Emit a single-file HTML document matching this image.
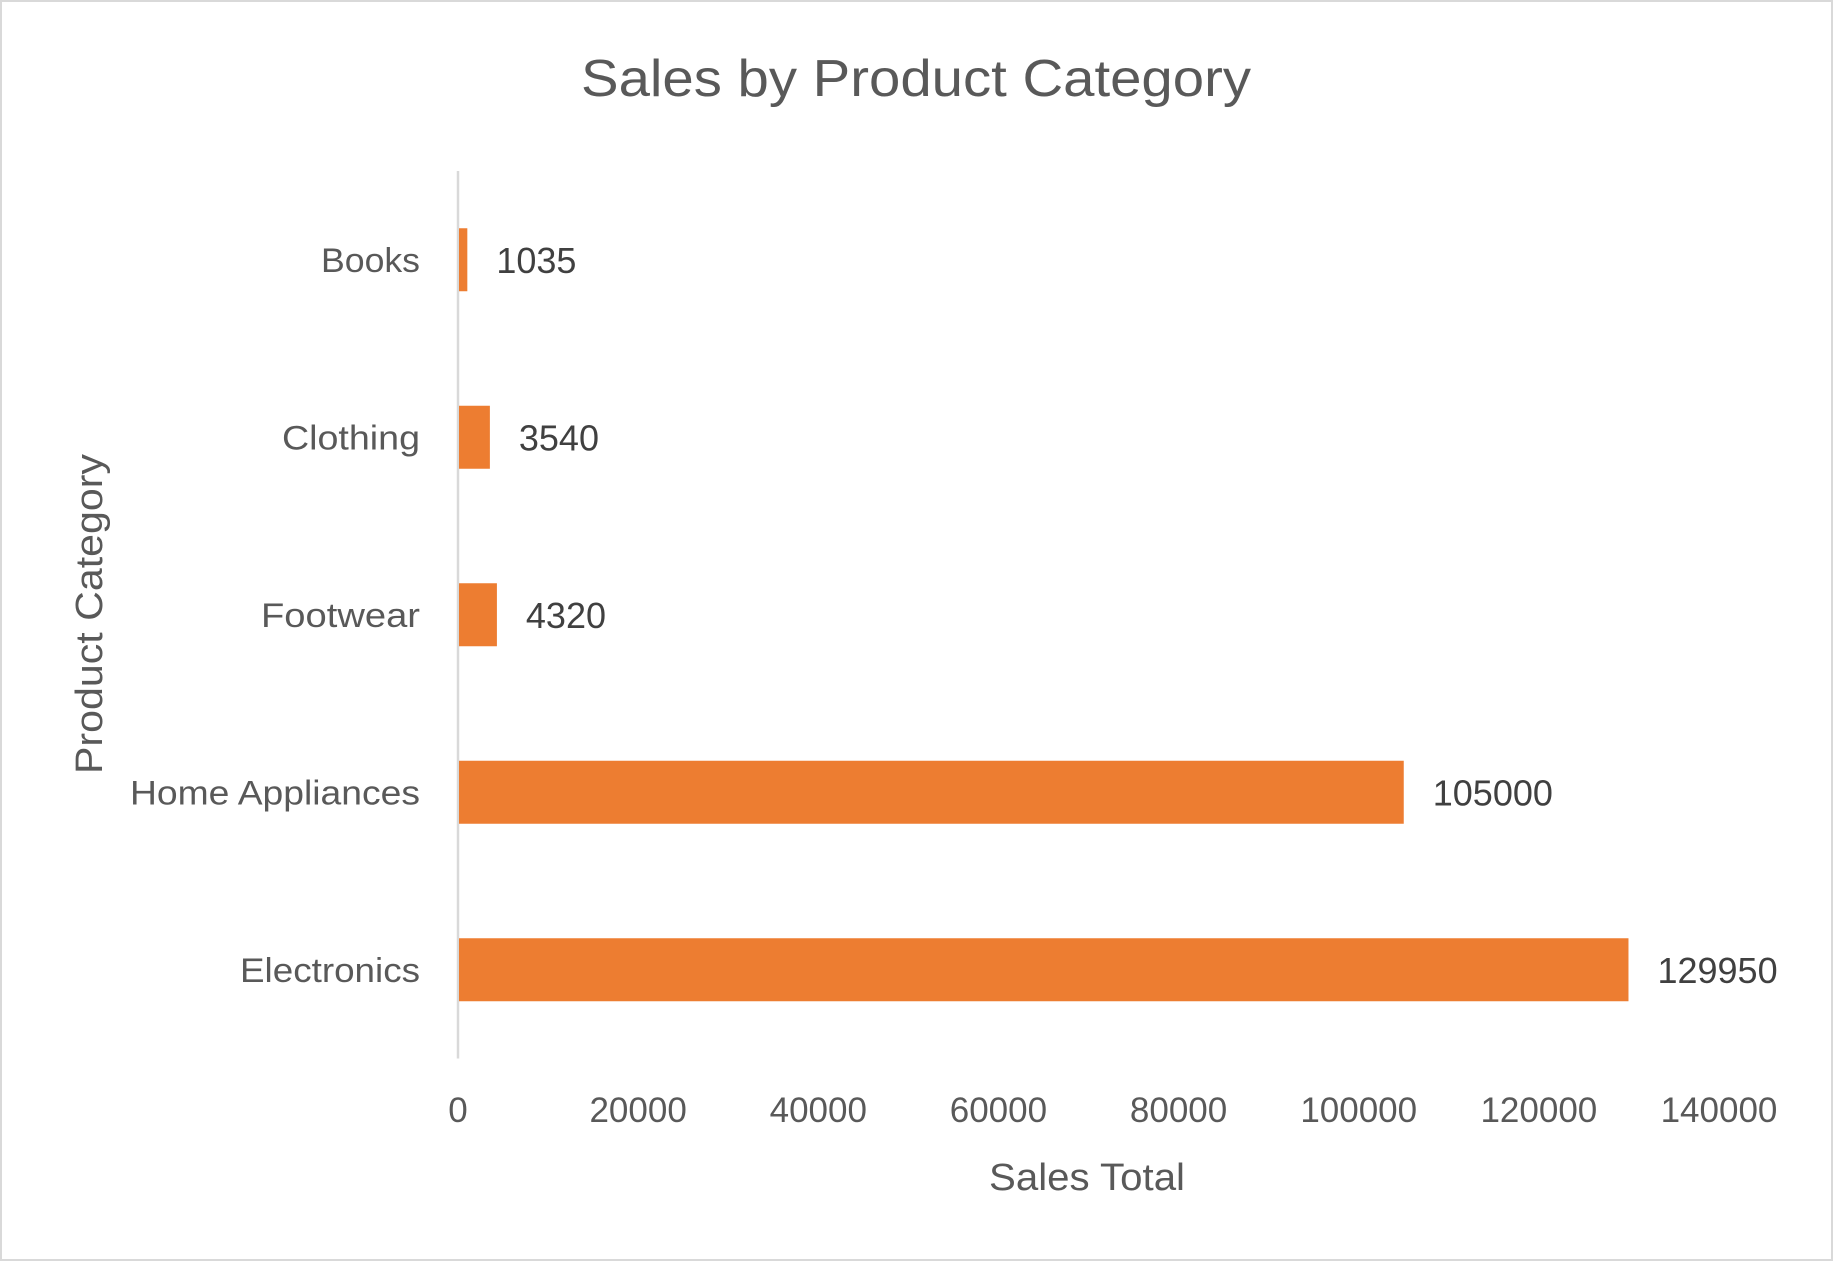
<!DOCTYPE html>
<html><head><meta charset="utf-8"><style>
html,body{margin:0;padding:0;background:#fff}
svg{display:block}
text{font-family:"Liberation Sans",sans-serif}
</style></head><body>
<svg id="chart" width="1833" height="1262" viewBox="0 0 1833 1262">
<rect x="1" y="1" width="1831" height="1259" fill="#fff" stroke="#d9d9d9" stroke-width="2"/>
<text x="581" y="96" font-size="52" fill="#595959" textLength="670" lengthAdjust="spacingAndGlyphs">Sales by Product Category</text>
<text x="989" y="1190" font-size="38" fill="#595959" textLength="196" lengthAdjust="spacingAndGlyphs">Sales Total</text>
<text transform="translate(102,774) rotate(-90)" x="0" y="0" font-size="38" fill="#595959" textLength="320" lengthAdjust="spacingAndGlyphs">Product Category</text>
<g id="plot"></g>
</svg>
<script>
const categories = ["Books","Clothing","Footwear","Home Appliances","Electronics"];
const values = [1035,3540,4320,105000,129950];
const ticks = [0,20000,40000,60000,80000,100000,120000,140000];
const labelWidths = [99,138,159,290,180];

const x0 = 458, xMax = 140000, xPx = 1719 - 458;
const plotTop = 171, band = 177.5, barH = 63;
function xs(v){ return x0 + v / xMax * xPx; }
function yc(i){ return plotTop + band * (i + 0.5); }
const NS = "http://www.w3.org/2000/svg";
const g = document.getElementById("plot");
function mk(tag, attrs){ const e = document.createElementNS(NS, tag); for (const k in attrs) e.setAttribute(k, attrs[k]); g.appendChild(e); return e; }

const axis = mk("line", {x1:x0, x2:x0, y1:plotTop, y2:plotTop + band*categories.length, stroke:"#d9d9d9", "stroke-width":2.5});



ticks.forEach(function(t){
  const tx = mk("text", {x:xs(t), y:1122, "font-size":35, fill:"#595959", "text-anchor":"middle"});
  tx.textContent = String(t);
  
  
});

categories.forEach(function(c, i){
  const y = yc(i);
  const r = mk("rect", {x:x0 + 1, y:y - barH/2, width:xs(values[i]) - x0 - 1, height:barH, fill:"#ED7D31"});
  
  
  const cl = mk("text", {x:420, y:y + 12, "font-size":34, fill:"#595959", "text-anchor":"end", textLength:labelWidths[i], lengthAdjust:"spacingAndGlyphs"});
  cl.textContent = c;
  
  
  const dl = mk("text", {x:xs(values[i]) + 29, y:y + 13, "font-size":36, fill:"#404040"});
  dl.textContent = String(values[i]);
  
  
});
</script>
</body></html>
